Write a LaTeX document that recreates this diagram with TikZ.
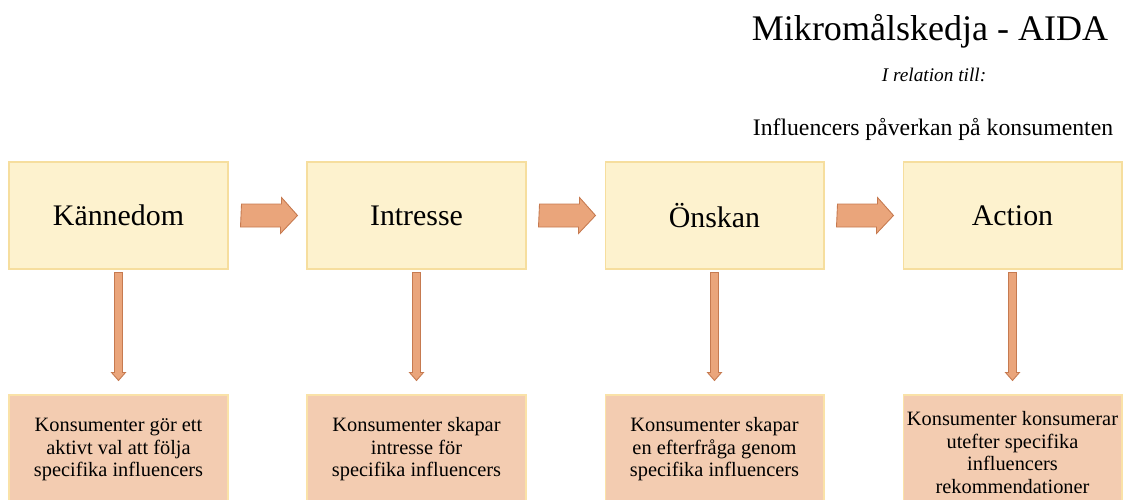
\documentclass[tikz,border=0pt]{standalone}
\usepackage{xcolor}
\usepackage{tikz}
\usetikzlibrary{calc}
\usepackage{fontspec}
\setmainfont{Liberation Serif}

\definecolor{stegfyll}{RGB}{253,242,206}
\definecolor{stegkant}{RGB}{246,222,158}
\definecolor{utfallfyll}{RGB}{243,204,177}
\definecolor{utfallkant}{RGB}{250,226,168}
\definecolor{pilfyll}{RGB}{234,165,123}
\definecolor{pilkant}{RGB}{198,122,80}

\newcommand{\hpil}[2]{\filldraw[blockpil] ($(#1.east)+(13,-11.5)$) -- ++(40,0) -- ++(0,-6.5) -- ($(#2.west)+(-9,0)$) -- ++(-17,18) -- ++(0,-6.5) -- ++(-40,0) -- cycle;}
\newcommand{\vpil}[2]{\filldraw[blockpil] ($(#1.south)+(-4,3)$) -- ++(8,0) -- ($(#2.north)+(4,-22)$) -- ++(3,0) -- ($(#2.north)+(0,-14)$) -- ++(-7,-8) -- ++(3,0) -- cycle;}

\begin{document}
\begin{tikzpicture}[x=0.02cm,
			y=-0.02cm,
			steg/.style={draw=stegkant, fill=stegfyll, line width=0.6pt, minimum width=4.38cm, minimum height=2.14cm, inner sep=0pt, font=\fontsize{17}{20}\selectfont},
			utfall/.style={draw=utfallkant, fill=utfallfyll, line width=0.6pt, minimum width=4.38cm, minimum height=2.3cm, inner sep=0pt, align=center, font=\fontsize{11.6}{12.8}\selectfont},
			blockpil/.style={draw=pilkant, fill=pilfyll, line width=0.5pt, line join=miter}]
			
			\useasboundingbox (0,0) rectangle (1123,500);
			
			\node (titel) at (930,31) {\fontsize{20.5}{24}\selectfont Mikromålskedja - AIDA};
			\node (relation) at (934,75) {\fontsize{11}{13}\selectfont\itshape I relation till:};
			\node (tema) at (933,129) {\fontsize{13.5}{16}\selectfont Influencers påverkan på konsumenten};
			
			\node[steg] (k) at (118.5,215.5) {Kännedom};
			\node[steg] (i) at (416.5,215.5) {Intresse};
			\node[steg] (o) at (714.5,215.5) {Önskan};
			\node[steg] (a) at (1012.5,215.5) {Action};
			
			\node[utfall] (kb) at (118.5,452.5) {Konsumenter gör ett\\aktivt val att följa\\specifika influencers\\[-7pt]};
			\node[utfall] (ib) at (416.5,452.5) {Konsumenter skapar\\intresse för\\specifika influencers\\[-7pt]};
			\node[utfall] (ob) at (714.5,452.5) {Konsumenter skapar\\en efterfråga genom\\specifika influencers\\[-7pt]};
			\node[utfall] (ab) at (1012.5,452.5) {Konsumenter konsumerar\\utefter specifika\\influencers\\rekommendationer};
			
			\hpil{k}{i}
			\hpil{i}{o}
			\hpil{o}{a}
			
			\vpil{k}{kb}
			\vpil{i}{ib}
			\vpil{o}{ob}
			\vpil{a}{ab}
		\end{tikzpicture}
\end{document}
